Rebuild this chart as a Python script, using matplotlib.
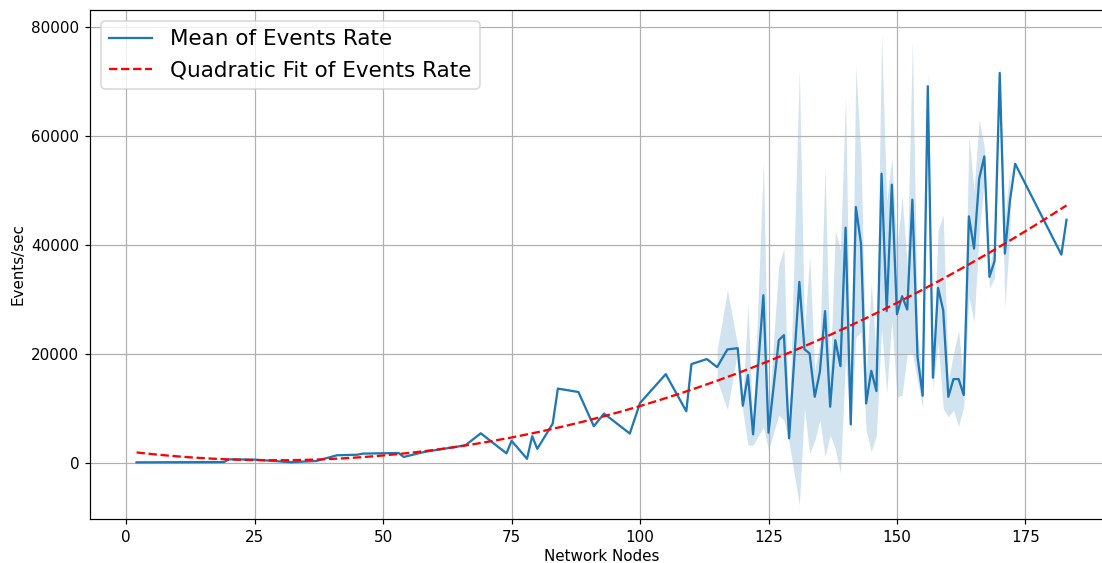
#### Workspace setup ####
import numpy as np
import matplotlib
matplotlib.use('Agg')
import matplotlib.pyplot as plt

#### Data ####
nodes = [2, 19, 20, 25, 32, 37, 41, 45, 46, 53, 54, 58, 66, 69, 74, 75, 78, 79, 80,
         83, 84, 88, 91, 93, 98, 100, 105, 109, 110, 113,
         115, 117, 119, 120, 121, 122, 124, 125, 127, 128, 129, 131, 132, 133, 134,
         135, 136, 137, 138, 139, 140, 141, 142, 143, 144, 145, 146, 147, 148, 149,
         150, 151, 152, 153, 154, 155, 156, 157, 158, 159, 160, 161, 162, 163, 164,
         165, 166, 167, 168, 169, 170, 171, 172, 173, 182, 183]

mean_rate = [50, 100, 600, 550, 80, 300, 1350, 1450, 1650, 1770, 1040, 1960, 3170, 5380,
             1700, 4000, 700, 4850, 2530, 7170, 13580, 12960, 6680, 9000, 5340, 10950,
             16230, 9420, 18080, 19000,
             17530, 20770, 21000, 10440, 16060, 5190, 30720, 5500, 22470, 23390, 4460,
             33160, 20800, 20030, 12090, 16670, 27790, 10260, 22470, 17710, 43110, 7020,
             46900, 40180, 10870, 16850, 13130, 53010, 27790, 51000, 27240, 30540, 28090,
             48250, 19420, 12280, 69070, 15570, 32060, 27970, 12090, 15330, 15330, 12400,
             45190, 39270, 52090, 56180, 34080, 37010, 71510, 38350, 48120, 54840,
             38160, 44560]

# confidence band (nan where there is a single run per node count)
nan = np.nan
ci_low = [nan] * 30 + [
    15100, 9700, 20500, 9500, 3200, 3200, 6500, 2300, 8700, 7800, 3800,
    -7800, 10000, 1700, 4000, 7800, 1100, 5000, 2500, -1950, 19000, 5700,
    23000, 24000, 6000, 2000, 5000, 24600, 12700, 26000, 12000, 12400, 20000,
    20000, 15000, 10000, 66000, 13600, 22000, 9950, 8400, 9600, 6600, 10300,
    30400, 25800, 42000, 52000, 32000, 34000, 70000, 28600, 42000, nan, nan, nan]
ci_high = [nan] * 30 + [
    20600, 31700, 21500, 12000, 28900, 6000, 55150, 9000, 36200, 39300, 5200,
    72300, 24000, 38000, 17000, 22000, 54500, 16000, 42600, 39000, 67200, 8500,
    72700, 56000, 16000, 33200, 19000, 78500, 48000, 56000, 39000, 49000, 36000,
    77600, 24000, 14500, 72000, 18000, 42600, 45500, 15000, 20000, 24300, 14500,
    59900, 50000, 62900, 58000, 36000, 40000, 73000, 45000, 54100, nan, nan, nan]

# quadratic fit coefficients (a*x^2 + b*x + c)
fit_coeffs = [1.97, -114.0, 2085]

x = np.array(nodes, dtype=float)
y = np.array(mean_rate, dtype=float)
x_fit = np.linspace(x.min(), x.max(), 200)
y_fit = np.polyval(fit_coeffs, x_fit)

#### Plot ####
fig = plt.figure(figsize=(1102 / 109, 563 / 109), dpi=109)
ax = fig.add_axes([0.0817, 0.0782, 0.9283, 0.9041])

ax.fill_between(x, ci_low, ci_high, color='C0', alpha=0.2, linewidth=0)
ax.plot(x, y, color='C0', linewidth=1.5, label='Mean of Events Rate')
ax.plot(x_fit, y_fit, 'r--', linewidth=1.5, label='Quadratic Fit of Events Rate')

ax.set_xlim(-7.05, 192.05)
ax.set_ylim(-10340, 83060)
ax.set_xticks([0, 25, 50, 75, 100, 125, 150, 175])
ax.set_xlabel('Network Nodes', labelpad=3)
ax.set_ylabel('Events/sec')
ax.grid(True)
ax.legend(loc='upper left', fontsize=14.2)

fig.savefig('out.png', dpi=109)
plt.close()
